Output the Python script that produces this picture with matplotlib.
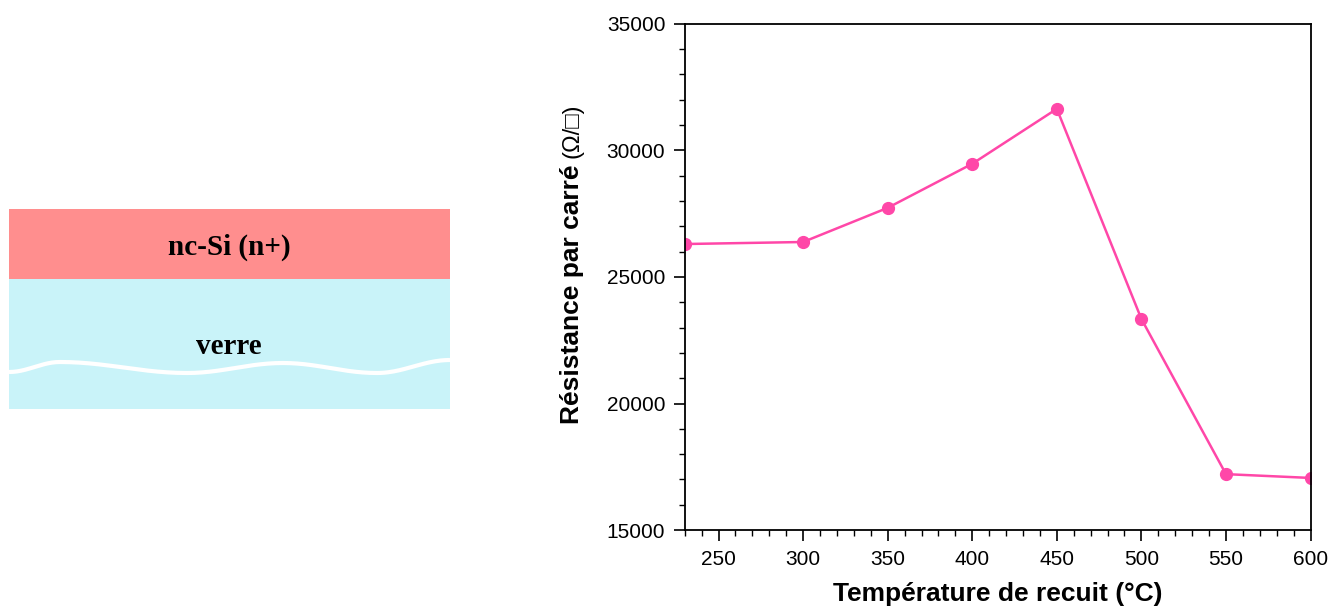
import numpy as np
import matplotlib.pyplot as plt
from matplotlib.patches import Rectangle
from matplotlib.ticker import MultipleLocator

# Data
temperatures = [230, 300, 350, 400, 450, 500, 550, 600]
resistance = [26300, 26380, 27730, 29470, 31640, 23340, 17210, 17060]

layer_names = ["nc-Si (n+)", "verre"]
layer_colors = ["#FF8E8E", "#C9F3F9"]

# crests and troughs of the white wavy line in the glass layer (pixels)
wave_x = [9, 60, 187, 283, 377, 450]
wave_y = [372, 362, 373, 363, 373, 360]

pink = "#FF47A8"

fig = plt.figure(figsize=(13.4, 6.1), dpi=100)

# Left: layer schematic, drawn in pixel-like coordinates
sch = fig.add_axes([0, 0, 0.5, 1])
sch.set_xlim(0, 670)
sch.set_ylim(610, 0)
sch.axis("off")
sch.add_patch(Rectangle((9, 209), 441, 70, color=layer_colors[0], lw=0))
sch.add_patch(Rectangle((9, 279), 441, 130, color=layer_colors[1], lw=0))
# smooth half-cosine segments between the extrema
xs, ys = [], []
for i in range(len(wave_x) - 1):
    t = np.linspace(0, 1, 40)
    s = (1 - np.cos(np.pi * t)) / 2
    xs.extend(wave_x[i] + (wave_x[i + 1] - wave_x[i]) * t)
    ys.extend(wave_y[i] + (wave_y[i + 1] - wave_y[i]) * s)
sch.plot(xs, ys, color="white", lw=3, solid_capstyle="butt")
sch.text(229, 247, layer_names[0], ha="center", va="center",
         family="Liberation Serif", weight="bold", fontsize=21)
sch.text(229, 346, layer_names[1], ha="center", va="center",
         family="Liberation Serif", weight="bold", fontsize=21)

# Right: sheet resistance vs annealing temperature
ax = fig.add_axes([0.511, 0.131, 0.467, 0.830])
ax.plot(temperatures, resistance, color=pink, lw=1.8, marker="o", ms=8.5)
ax.set_xlim(230, 600)
ax.set_ylim(15000, 35000)
ax.xaxis.set_major_locator(MultipleLocator(50))
ax.xaxis.set_minor_locator(MultipleLocator(10))
ax.yaxis.set_major_locator(MultipleLocator(5000))
ax.yaxis.set_minor_locator(MultipleLocator(1000))
ax.tick_params(which="major", direction="out", length=8, width=1.2,
               labelsize=15, pad=6)
ax.tick_params(which="minor", direction="out", length=4, width=1.0)
for lab in ax.get_xticklabels() + ax.get_yticklabels():
    lab.set_family("Liberation Sans")
for s in ax.spines.values():
    s.set_linewidth(1.3)

ax.set_xlabel("Température de recuit (°C)", family="Liberation Sans",
              weight="bold", fontsize=19, labelpad=10)

# y label: bold text followed by the unit in regular weight
fig.text(0.427, 0.523, "Résistance par carré ", rotation=90, ha="center",
         va="center", family="Liberation Sans", weight="bold", fontsize=19)
fig.canvas.draw()
t1 = fig.texts[-1].get_window_extent()
fig.text(0.427, t1.y1 / fig.bbox.height, "(Ω/□)", rotation=90, ha="center",
         va="bottom", family=["Liberation Sans", "DejaVu Sans"], fontsize=17)

fig.savefig("out.png", dpi=100)
